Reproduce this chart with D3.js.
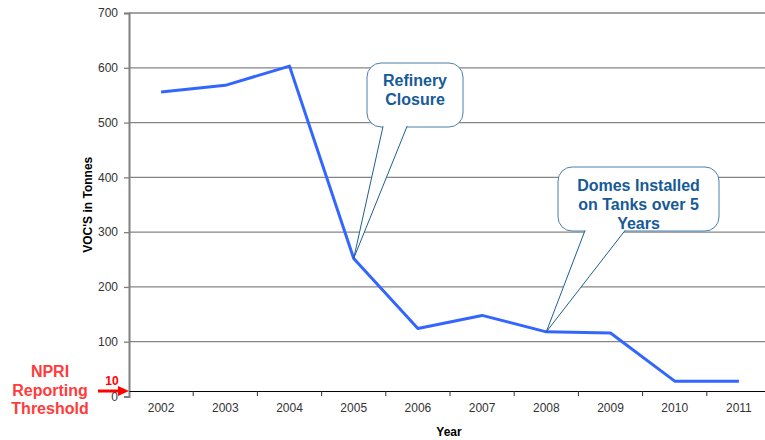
<!DOCTYPE html>
<html>
<head>
<meta charset="utf-8">
<script src="https://cdn.jsdelivr.net/npm/d3@7"></script>
<style>
  html, body { margin: 0; padding: 0; background: #fff; }
  svg { display: block; }
  text { font-family: "Liberation Sans", Arial, sans-serif; }
</style>
</head>
<body>
<svg id="chart" width="765" height="440"></svg>
<script>
// VOC emissions by year
const years = ["2002", "2003", "2004", "2005", "2006", "2007", "2008", "2009", "2010", "2011"];
const vocTonnes = [556, 568, 603, 252, 124, 148, 118, 116, 28, 28];
const yTicks = [0, 100, 200, 300, 400, 500, 600, 700];
const threshold = 10;
const thresholdLabel = ["NPRI", "Reporting", "Threshold"];
const notes = [
  { year: "2005", lines: ["Refinery", "Closure"] },
  { year: "2008", lines: ["Domes Installed", "on Tanks over 5", "Years"] }
];

const svg = d3.select("#chart");
const plotL = 129, plotR = 771, plotT = 13, plotB = 396.5;

const x = d3.scaleBand().domain(years).range([plotL, plotR]).padding(0);
const y = d3.scaleLinear().domain([0, 700]).range([plotB, plotT]);

// horizontal gridlines
svg.append("g")
  .selectAll("line")
  .data(yTicks.filter(d => d > 0))
  .join("line")
  .attr("x1", plotL).attr("x2", 765)
  .attr("y1", d => y(d)).attr("y2", d => y(d))
  .attr("stroke", "#858585").attr("stroke-width", 1.3);

// y axis
const yAxis = svg.append("g")
  .attr("transform", `translate(${plotL},0)`)
  .call(d3.axisLeft(y).tickValues(yTicks).tickSize(5).tickPadding(6));
yAxis.select(".domain").attr("stroke", "#808080").attr("stroke-width", 2);
yAxis.selectAll(".tick line").attr("stroke", "#808080").attr("stroke-width", 1.3);
yAxis.selectAll(".tick text").attr("font-size", 12).attr("fill", "#333")
  .attr("font-family", "'Liberation Sans', Arial, sans-serif");

// threshold line acting as the category axis
const xAxis = svg.append("g")
  .attr("transform", `translate(0,${y(threshold)})`)
  .call(d3.axisBottom(x).tickSize(0).tickPadding(12));
xAxis.select(".domain").attr("stroke", "#000").attr("stroke-width", 1);
xAxis.selectAll(".tick text").attr("font-size", 12).attr("fill", "#333")
  .attr("font-family", "'Liberation Sans', Arial, sans-serif");
svg.append("g")
  .selectAll("line")
  .data(years.slice(1))
  .join("line")
  .attr("x1", d => x(d)).attr("x2", d => x(d))
  .attr("y1", y(threshold)).attr("y2", y(threshold) + 5)
  .attr("stroke", "#333").attr("stroke-width", 1);

// axis titles
svg.append("text")
  .attr("transform", `translate(92,${(plotT + plotB) / 2}) rotate(-90)`)
  .attr("text-anchor", "middle")
  .attr("font-size", 12).attr("font-weight", "bold").attr("fill", "#000")
  .text("VOC'S in Tonnes");
svg.append("text")
  .attr("x", 449).attr("y", 436)
  .attr("text-anchor", "middle")
  .attr("font-size", 12).attr("font-weight", "bold").attr("fill", "#000")
  .text("Year");

// emissions line
const cx = d => x(d) + x.bandwidth() / 2;
const pts = years.map((yr, i) => [cx(yr), y(vocTonnes[i])]);
svg.append("path")
  .attr("d", d3.line()(pts))
  .attr("fill", "none")
  .attr("stroke", "#3366ff")
  .attr("stroke-width", 3)
  .attr("stroke-linejoin", "round");

// callouts
const boxes = [
  { x0: 367, x1: 463, y0: 63, y1: 127, p0: 383, p1: 407, textY: 86, lh: 19 },
  { x0: 558, x1: 719, y0: 167, y1: 231, p0: 585, p1: 625, textY: 191, lh: 19 }
];
notes.forEach((n, i) => {
  const b = boxes[i];
  const idx = years.indexOf(n.year);
  const tip = [cx(n.year), y(vocTonnes[idx])];
  const g = svg.append("g");
  g.append("rect")
    .attr("x", b.x0).attr("y", b.y0)
    .attr("width", b.x1 - b.x0).attr("height", b.y1 - b.y0)
    .attr("rx", 14).attr("ry", 14)
    .attr("fill", "#fff").attr("stroke", "#4a7fae").attr("stroke-width", 1);
  g.append("path")
    .attr("d", `M${b.p0},${b.y1 - 0.5}L${tip[0]},${tip[1]}L${b.p1},${b.y1 - 0.5}`)
    .attr("fill", "#fff").attr("stroke", "#1f5f8f").attr("stroke-width", 1);
  g.append("line")
    .attr("x1", b.p0 + 1).attr("x2", b.p1 - 1)
    .attr("y1", b.y1 - 0.5).attr("y2", b.y1 - 0.5)
    .attr("stroke", "#fff").attr("stroke-width", 1.5);
  n.lines.forEach((ln, j) => {
    g.append("text")
      .attr("x", (b.x0 + b.x1) / 2).attr("y", b.textY + j * b.lh)
      .attr("text-anchor", "middle")
      .attr("font-size", 16).attr("font-weight", "bold").attr("fill", "#165a96")
      .text(ln);
  });
});

// reporting threshold marker
const red = "#ff3b3b";
const ty = y(threshold);
svg.append("line")
  .attr("x1", 98).attr("x2", 120).attr("y1", ty).attr("y2", ty)
  .attr("stroke", "#ff0000").attr("stroke-width", 3);
svg.append("path")
  .attr("d", `M118,${ty - 5}L129,${ty}L118,${ty + 5}Z`)
  .attr("fill", "#ff0000");
svg.append("text")
  .attr("x", 112).attr("y", ty - 6)
  .attr("text-anchor", "middle")
  .attr("font-size", 12).attr("font-weight", "bold").attr("fill", "#ff0000")
  .text(threshold);
thresholdLabel.forEach((t, i) => {
  svg.append("text")
    .attr("x", 50).attr("y", 377 + i * 18.5)
    .attr("text-anchor", "middle")
    .attr("font-size", 16).attr("font-weight", "bold").attr("fill", red)
    .text(t);
});
</script>
</body>
</html>
